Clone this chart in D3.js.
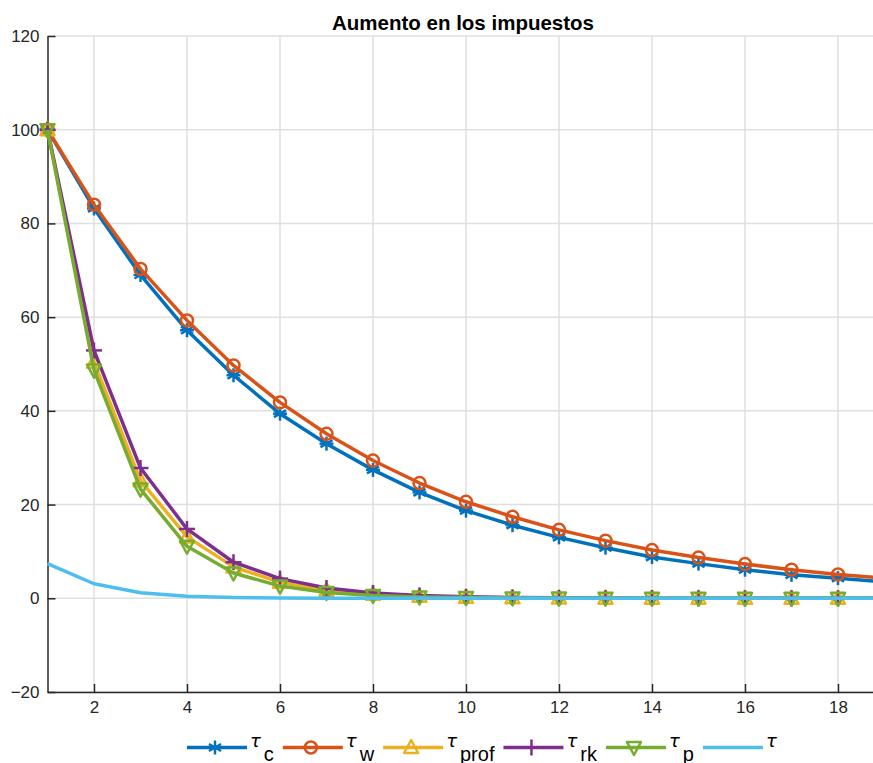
<!DOCTYPE html>
<html>
<head>
<meta charset="utf-8">
<script src="https://cdn.jsdelivr.net/npm/d3@7"></script>
<style>
  body { margin: 0; background: #fff; }
  svg { font-family: "Liberation Sans", Arial, sans-serif; }
</style>
</head>
<body>
<div id="chart-area"></div>
<script>
// periods
const periods = d3.range(1, 20);

// series
const tauC    = [100, 83.2, 69.0, 57.2, 47.6, 39.4, 33.0, 27.4, 22.6, 18.7, 15.6, 13.0, 10.8, 8.8, 7.4, 6.1, 5.0, 4.3, 3.5];
const tauW    = [100, 84.0, 70.3, 59.3, 49.7, 41.8, 35.1, 29.4, 24.6, 20.6, 17.4, 14.6, 12.3, 10.3, 8.7, 7.3, 6.1, 5.1, 4.3];
const tauProf = [100, 50.4, 25.1, 13.1, 6.7, 3.4, 1.7, 0.85, 0.43, 0.22, 0.11, 0.06, 0.03, 0.02, 0.01, 0, 0, 0, 0];
const tauRk   = [100, 52.9, 27.8, 14.8, 7.7, 4.2, 2.2, 1.15, 0.6, 0.32, 0.17, 0.09, 0.05, 0.03, 0.02, 0.01, 0, 0, 0];
const tauP    = [100, 48.7, 23.3, 11.1, 5.4, 2.6, 1.25, 0.6, 0.3, 0.15, 0.07, 0.04, 0.02, 0.01, 0, 0, 0, 0, 0];
const tau     = [7.4, 3.1, 1.2, 0.45, 0.18, 0.07, 0.03, 0.01, 0, 0, 0, 0, 0, 0, 0, 0, 0, 0, 0];

const xTicks = [2, 4, 6, 8, 10, 12, 14, 16, 18];
const yTicks = [-20, 0, 20, 40, 60, 80, 100, 120];

const series = [
    { sub: "c",    values: tauC,    color: "#0072BD", marker: "asterisk" },
    { sub: "w",    values: tauW,    color: "#D95319", marker: "circle" },
    { sub: "prof", values: tauProf, color: "#EDB120", marker: "triUp" },
    { sub: "rk",   values: tauRk,   color: "#7E2F8E", marker: "plus" },
    { sub: "p",    values: tauP,    color: "#77AC30", marker: "triDown" },
    { sub: "",     values: tau,     color: "#4DBEEE", marker: null }
];

const W = 873, H = 763;
const mLeft = 47.5, mTop = 36, mBottom = 692, mRight = 884.5;

const svg = d3.select("#chart-area")
    .append("svg")
    .attr("width", W)
    .attr("height", H);

const x = d3.scaleLinear().domain([1, 19]).range([mLeft, mRight]);
const y = d3.scaleLinear().domain([-20, 120]).range([mBottom, mTop]);

// grid
svg.append("g").selectAll("line")
    .data(xTicks)
    .enter().append("line")
    .attr("x1", d => x(d)).attr("x2", d => x(d))
    .attr("y1", mTop).attr("y2", mBottom)
    .attr("stroke", "#dfdfdf").attr("stroke-width", 1.5);
svg.append("g").selectAll("line")
    .data(yTicks)
    .enter().append("line")
    .attr("x1", mLeft).attr("x2", mRight)
    .attr("y1", d => y(d)).attr("y2", d => y(d))
    .attr("stroke", "#dfdfdf").attr("stroke-width", 1.5);

// axes (ticks inward)
const xAxis = svg.append("g")
    .attr("transform", "translate(0," + mBottom + ")")
    .call(d3.axisBottom(x).tickValues(xTicks).tickSizeInner(-8).tickSizeOuter(0).tickPadding(9));
const yAxis = svg.append("g")
    .attr("transform", "translate(" + mLeft + ",0)")
    .call(d3.axisLeft(y).tickValues(yTicks).tickSizeInner(-8).tickSizeOuter(0).tickPadding(9));

[xAxis, yAxis].forEach(function (a) {
    a.select(".domain").attr("stroke", "#262626").attr("stroke-width", 1.5);
    a.selectAll(".tick line").attr("stroke", "#262626").attr("stroke-width", 1.5);
    a.selectAll(".tick text")
        .attr("fill", "#262626")
        .style("font-size", "17px")
        .style("font-family", "Liberation Sans, Arial, sans-serif");
});
yAxis.selectAll(".tick text").attr("x", -8);

// title
svg.append("text")
    .attr("x", 463).attr("y", 30)
    .attr("text-anchor", "middle")
    .style("font-size", "20.5px")
    .style("font-weight", "bold")
    .attr("fill", "#000")
    .text("Aumento en los impuestos");

// marker shapes
function drawMarker(g, type, color, cx, cy) {
    const s = 7;
    if (type === "circle") {
        g.append("circle").attr("cx", cx).attr("cy", cy).attr("r", 6)
            .attr("fill", "none").attr("stroke", color).attr("stroke-width", 2.5);
    } else if (type === "asterisk") {
        [0, 60, 120].forEach(function (a) {
            const r = a * Math.PI / 180;
            g.append("line")
                .attr("x1", cx - s * Math.sin(r)).attr("y1", cy - s * Math.cos(r))
                .attr("x2", cx + s * Math.sin(r)).attr("y2", cy + s * Math.cos(r))
                .attr("stroke", color).attr("stroke-width", 2.5);
        });
        g.append("line").attr("x1", cx - s).attr("x2", cx + s).attr("y1", cy).attr("y2", cy)
            .attr("stroke", color).attr("stroke-width", 2.5);
    } else if (type === "plus") {
        g.append("line").attr("x1", cx - 8).attr("x2", cx + 8).attr("y1", cy).attr("y2", cy)
            .attr("stroke", color).attr("stroke-width", 2.5);
        g.append("line").attr("x1", cx).attr("x2", cx).attr("y1", cy - 8).attr("y2", cy + 8)
            .attr("stroke", color).attr("stroke-width", 2.5);
    } else if (type === "triUp") {
        g.append("path")
            .attr("d", "M" + cx + "," + (cy - 7.5) + "L" + (cx + 7) + "," + (cy + 5.5) + "L" + (cx - 7) + "," + (cy + 5.5) + "Z")
            .attr("fill", "none").attr("stroke", color).attr("stroke-width", 2.5).attr("stroke-linejoin", "round");
    } else if (type === "triDown") {
        g.append("path")
            .attr("d", "M" + cx + "," + (cy + 7.5) + "L" + (cx + 7) + "," + (cy - 5.5) + "L" + (cx - 7) + "," + (cy - 5.5) + "Z")
            .attr("fill", "none").attr("stroke", color).attr("stroke-width", 2.5).attr("stroke-linejoin", "round");
    }
}

const line = d3.line()
    .x((d, i) => x(periods[i]))
    .y(d => y(d));

series.forEach(function (s) {
    const g = svg.append("g");
    g.append("path")
        .datum(s.values)
        .attr("d", line)
        .attr("fill", "none")
        .attr("stroke", s.color)
        .attr("stroke-width", 3.5)
        .attr("stroke-linejoin", "round");
    if (s.marker) {
        s.values.forEach(function (v, i) {
            drawMarker(g, s.marker, s.color, x(periods[i]), y(v));
        });
    }
});

// legend
const legend = svg.append("g");
let lx = 187;
const ly = 747.5;
series.forEach(function (s) {
    const g = legend.append("g");
    g.append("line")
        .attr("x1", lx).attr("x2", lx + 60)
        .attr("y1", ly).attr("y2", ly)
        .attr("stroke", s.color).attr("stroke-width", 3.5);
    if (s.marker) drawMarker(g, s.marker, s.color, lx + 28, ly);
    const t = g.append("text")
        .attr("x", lx + 63).attr("y", ly - 1)
        .attr("fill", "#000")
        .style("font-size", "18px");
    t.append("tspan").style("font-family", "DejaVu Sans, sans-serif").style("font-style", "italic").text("τ");
    if (s.sub) {
        t.append("tspan").attr("dy", 14).attr("dx", 3).style("font-size", "20px").text(s.sub);
    }
    lx += 63 + t.node().getComputedTextLength() + 12;
});
</script>
</body>
</html>
